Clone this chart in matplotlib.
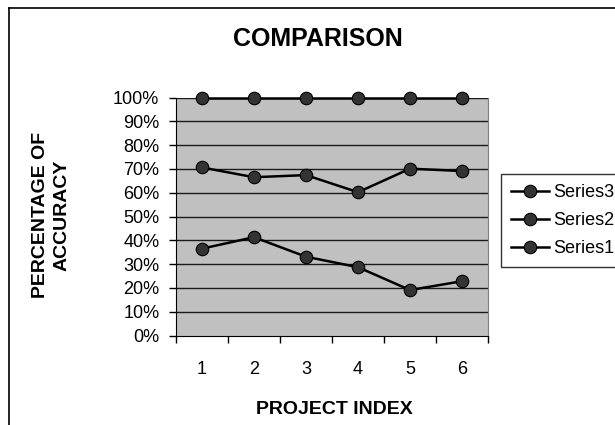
import matplotlib
matplotlib.use("Agg")
import matplotlib.pyplot as plt
from matplotlib.lines import Line2D

# values (percent)
idx = [1, 2, 3, 4, 5, 6]
series3 = [100, 100, 100, 100, 100, 100]
series2 = [70.6, 66.5, 67.4, 60.2, 70.1, 69.1]
series1 = [36.5, 41.3, 33.1, 28.7, 19.1, 22.8]
yticks = [0, 10, 20, 30, 40, 50, 60, 70, 80, 90, 100]

plt.rcParams['font.family'] = ['Liberation Sans', 'DejaVu Sans']

W, H = 615, 425
fig = plt.figure(figsize=(W / 100, H / 100), dpi=100)
ax = fig.add_axes([176 / W, 1 - 335.5 / H, (488 - 176) / W, (335.5 - 97.5) / H])
ax.set_facecolor('#c0c0c0')

for yv in yticks[1:]:
    ax.axhline(yv, color='#1a1a1a', lw=1, zorder=1)

sty = dict(color='black', lw=1.8, marker='o', markersize=9,
           markerfacecolor='#333333', markeredgecolor='black', markeredgewidth=0.8,
           zorder=3, clip_on=False)
ax.plot(idx, series3, label='Series3', **sty)
ax.plot(idx, series2, label='Series2', **sty)
ax.plot(idx, series1, label='Series1', **sty)

ax.set_xlim(0.5, 6.5)
ax.set_ylim(0, 100)
ax.set_yticks(yticks)
ax.set_yticklabels([f'{v}%' for v in yticks], fontsize=13)
ax.tick_params(axis='y', direction='out', length=5, width=1, pad=7)

ax.set_xticks([0.5, 1.5, 2.5, 3.5, 4.5, 5.5, 6.5])
ax.set_xticklabels([])
ax.set_xticks(idx, minor=True)
ax.set_xticklabels([str(i) for i in idx], minor=True, fontsize=13)
ax.tick_params(axis='x', which='major', direction='out', length=5, width=1)
ax.tick_params(axis='x', which='minor', length=0, pad=18)

ax.spines['top'].set_visible(False)
ax.spines['right'].set_color('#808080')
ax.spines['left'].set_color('black')
ax.spines['bottom'].set_color('black')

fig.text(318 / W, 1 - 39 / H, 'COMPARISON', ha='center', va='center',
         fontsize=18, fontweight='bold')
fig.text(334 / W, 1 - 409 / H, 'PROJECT INDEX', ha='center', va='center',
         fontsize=14, fontweight='bold')
fig.text(51 / W, 1 - 215 / H, 'PERCENTAGE OF\nACCURACY', ha='center', va='center',
         rotation=90, fontsize=14, fontweight='bold', multialignment='center',
         linespacing=1.35)

leg = fig.legend(loc='upper left', bbox_to_anchor=(501 / W, 1 - 264 / H, 130 / W, 90 / H),
                 mode='expand', fontsize=13, frameon=True, fancybox=False,
                 borderaxespad=0, handlelength=2.1, handletextpad=0.25,
                 labelspacing=0.62, borderpad=0.55)
leg.get_frame().set_edgecolor('black')
leg.get_frame().set_linewidth(1)

# outer chart border (only left and top visible in the crop)
fig.add_artist(Line2D([9 / W, 9 / W], [0, 1 - 8 / H], color='black', lw=1.2))
fig.add_artist(Line2D([9 / W, 1], [1 - 8 / H, 1 - 8 / H], color='black', lw=1.2))

fig.savefig('out.png', dpi=100)
